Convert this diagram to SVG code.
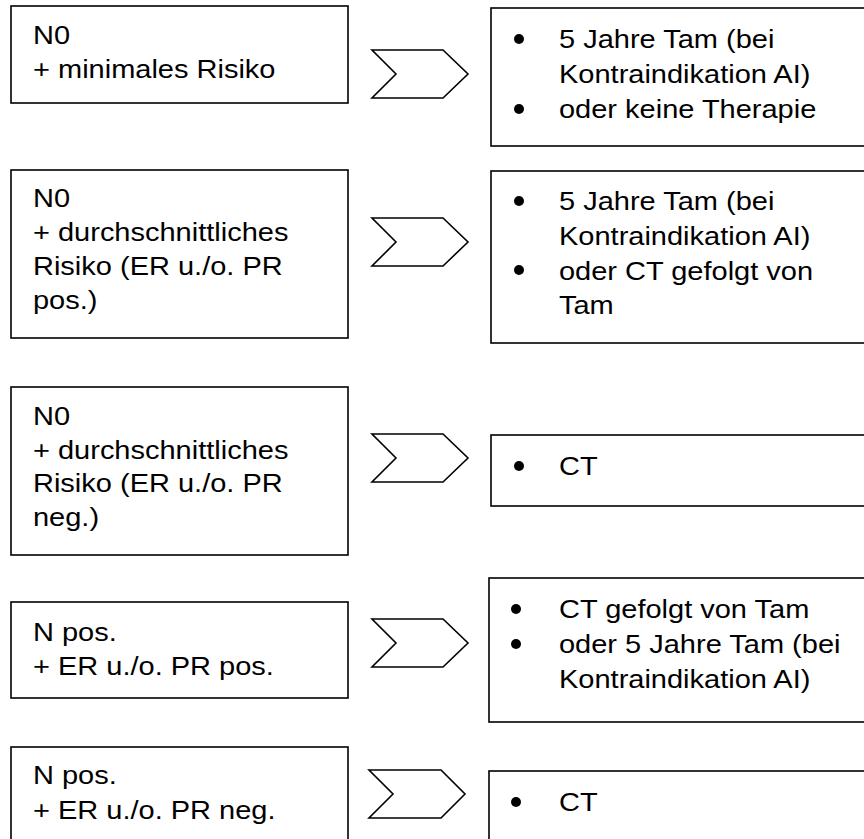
<svg xmlns="http://www.w3.org/2000/svg" width="864" height="839" viewBox="0 0 864 839">
<style>
.box{fill:#fff;stroke:#000;stroke-width:1.6}
.chev{fill:#fff;stroke:#000;stroke-width:1.6;stroke-linejoin:miter}
.t{font-family:"Liberation Sans",Arial,sans-serif;font-size:25px;fill:#000}
.b{fill:#000}
</style>
<rect width="864" height="839" fill="#fff"/>
<g id="connectors">
<polygon class="chev" points="372,50 443,50 468,74 443,98 372,98 396,74"/>
<polygon class="chev" points="372,218 443,218 468,242 443,266 372,266 396,242"/>
<polygon class="chev" points="372,434 443,434 468,458 443,482 372,482 396,458"/>
<polygon class="chev" points="372,619 443,619 468,643 443,667 372,667 396,643"/>
<polygon class="chev" points="369,770 441,770 465,794 441,818 369,818 393,794"/>
</g>
<g id="cond1">
<rect class="box" x="11" y="6" width="337" height="97"/>
<text class="t" transform="translate(33,0) scale(1.16,1)"><tspan x="0" y="44">N0</tspan><tspan x="0" y="78">+ minimales Risiko</tspan></text>
</g>
<g id="cond2">
<rect class="box" x="11" y="170" width="337" height="168"/>
<text class="t" transform="translate(33,0) scale(1.16,1)"><tspan x="0" y="207">N0</tspan><tspan x="0" y="241">+ durchschnittliches</tspan><tspan x="0" y="275">Risiko (ER u./o. PR</tspan><tspan x="0" y="309">pos.)</tspan></text>
</g>
<g id="cond3">
<rect class="box" x="11" y="387" width="337" height="168"/>
<text class="t" transform="translate(33,0) scale(1.16,1)"><tspan x="0" y="425">N0</tspan><tspan x="0" y="459">+ durchschnittliches</tspan><tspan x="0" y="492">Risiko (ER u./o. PR</tspan><tspan x="0" y="526">neg.)</tspan></text>
</g>
<g id="cond4">
<rect class="box" x="11" y="602" width="337" height="96"/>
<text class="t" transform="translate(33,0) scale(1.16,1)"><tspan x="0" y="641">N pos.</tspan><tspan x="0" y="675">+ ER u./o. PR pos.</tspan></text>
</g>
<g id="cond5">
<rect class="box" x="11" y="747" width="337" height="100"/>
<text class="t" transform="translate(33,0) scale(1.16,1)"><tspan x="0" y="784">N pos.</tspan><tspan x="0" y="819">+ ER u./o. PR neg.</tspan></text>
</g>
<g id="ther1">
<rect class="box" x="491" y="8" width="380" height="138"/>
<circle class="b" cx="519" cy="39" r="5"/><circle class="b" cx="519" cy="109" r="5"/>
<text class="t" transform="translate(559,0) scale(1.16,1)"><tspan x="0" y="48">5 Jahre Tam (bei</tspan><tspan x="0" y="83">Kontraindikation AI)</tspan><tspan x="0" y="118">oder keine Therapie</tspan></text>
</g>
<g id="ther2">
<rect class="box" x="491" y="171" width="380" height="172"/>
<circle class="b" cx="519" cy="201" r="5"/><circle class="b" cx="519" cy="270" r="5"/>
<text class="t" transform="translate(559,0) scale(1.16,1)"><tspan x="0" y="210">5 Jahre Tam (bei</tspan><tspan x="0" y="245">Kontraindikation AI)</tspan><tspan x="0" y="280">oder CT gefolgt von</tspan><tspan x="0" y="314">Tam</tspan></text>
</g>
<g id="ther3">
<rect class="box" x="491" y="435" width="380" height="71"/>
<circle class="b" cx="519" cy="466" r="5"/>
<text class="t" transform="translate(559,0) scale(1.16,1)"><tspan x="0" y="475">CT</tspan></text>
</g>
<g id="ther4">
<rect class="box" x="489" y="578" width="382" height="144"/>
<circle class="b" cx="516" cy="609" r="5"/><circle class="b" cx="516" cy="644" r="5"/>
<text class="t" transform="translate(559,0) scale(1.16,1)"><tspan x="0" y="618">CT gefolgt von Tam</tspan><tspan x="0" y="653">oder 5 Jahre Tam (bei</tspan><tspan x="0" y="688">Kontraindikation AI)</tspan></text>
</g>
<g id="ther5">
<rect class="box" x="489" y="771" width="382" height="80"/>
<circle class="b" cx="516" cy="802" r="5"/>
<text class="t" transform="translate(559,0) scale(1.16,1)"><tspan x="0" y="811">CT</tspan></text>
</g>
</svg>
